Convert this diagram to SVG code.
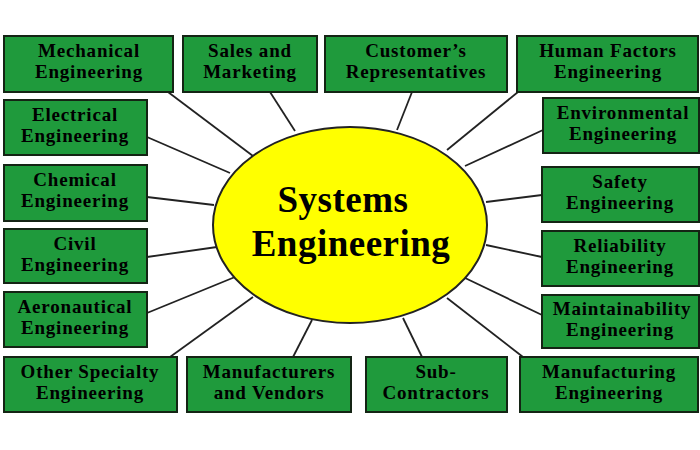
<svg xmlns="http://www.w3.org/2000/svg" width="700" height="450" viewBox="0 0 700 450">
<style>
.box{fill:#1f9a3c;stroke:#142414;stroke-width:2}
.t{font-family:"Liberation Serif","Times New Roman",serif;font-weight:bold;font-size:19px;letter-spacing:0.8px;fill:#000;text-anchor:middle}
.title{font-family:"Liberation Serif","Times New Roman",serif;font-weight:bold;font-size:37px;letter-spacing:0.5px;fill:#000;text-anchor:middle}
.c{stroke:#222;stroke-width:1.8;fill:none}
</style>
<rect width="700" height="450" fill="#fff"/>
<g id="connectors">
<line class="c" x1="168" y1="92" x2="253" y2="156"/>
<line class="c" x1="270" y1="92" x2="295" y2="131"/>
<line class="c" x1="412" y1="92" x2="397" y2="130"/>
<line class="c" x1="518" y1="92" x2="447" y2="150"/>
<line class="c" x1="147" y1="137" x2="230" y2="173"/>
<line class="c" x1="543" y1="130" x2="465" y2="166"/>
<line class="c" x1="147" y1="197" x2="214" y2="205"/>
<line class="c" x1="542" y1="195" x2="486" y2="202"/>
<line class="c" x1="147" y1="257" x2="217" y2="247"/>
<line class="c" x1="542" y1="257" x2="486" y2="245"/>
<line class="c" x1="147" y1="313" x2="235" y2="277"/>
<line class="c" x1="542" y1="315" x2="463" y2="277"/>
<line class="c" x1="170" y1="357" x2="253" y2="297"/>
<line class="c" x1="293" y1="357" x2="312" y2="320"/>
<line class="c" x1="422" y1="357" x2="403" y2="318"/>
<line class="c" x1="523" y1="357" x2="447" y2="298"/>
</g>
<g id="center">
<ellipse cx="350" cy="225" rx="137" ry="98" fill="#ffff00" stroke="#222" stroke-width="2"/>
<text class="title" x="343" y="212">Systems</text>
<text class="title" x="351" y="256">Engineering</text>
</g>
<g id="mechanical"><rect class="box" x="4" y="36" width="169" height="56"/><text class="t" x="89" y="57">Mechanical</text><text class="t" x="89" y="78">Engineering</text></g>
<g id="sales"><rect class="box" x="183" y="36" width="134" height="56"/><text class="t" x="250" y="57">Sales and</text><text class="t" x="250" y="78">Marketing</text></g>
<g id="customers"><rect class="box" x="325" y="36" width="182" height="56"/><text class="t" x="416" y="57">Customer’s</text><text class="t" x="416" y="78">Representatives</text></g>
<g id="human-factors"><rect class="box" x="517" y="36" width="181" height="56"/><text class="t" x="608" y="57">Human Factors</text><text class="t" x="608" y="78">Engineering</text></g>
<g id="electrical"><rect class="box" x="4" y="100" width="143" height="55"/><text class="t" x="75" y="121">Electrical</text><text class="t" x="75" y="142">Engineering</text></g>
<g id="environmental"><rect class="box" x="543" y="98" width="156" height="55"/><text class="t" x="623" y="119">Environmental</text><text class="t" x="623" y="140">Engineering</text></g>
<g id="chemical"><rect class="box" x="4" y="165" width="143" height="56"/><text class="t" x="75" y="186">Chemical</text><text class="t" x="75" y="207">Engineering</text></g>
<g id="safety"><rect class="box" x="542" y="167" width="157" height="55"/><text class="t" x="620" y="188">Safety</text><text class="t" x="620" y="209">Engineering</text></g>
<g id="civil"><rect class="box" x="4" y="229" width="143" height="54"/><text class="t" x="75" y="250">Civil</text><text class="t" x="75" y="271">Engineering</text></g>
<g id="reliability"><rect class="box" x="542" y="231" width="157" height="55"/><text class="t" x="620" y="252">Reliability</text><text class="t" x="620" y="273">Engineering</text></g>
<g id="aeronautical"><rect class="box" x="4" y="292" width="143" height="55"/><text class="t" x="75" y="313">Aeronautical</text><text class="t" x="75" y="334">Engineering</text></g>
<g id="maintainability"><rect class="box" x="542" y="295" width="157" height="53"/><text class="t" x="622" y="315">Maintainability</text><text class="t" x="620" y="336">Engineering</text></g>
<g id="other-specialty"><rect class="box" x="4" y="357" width="173" height="55"/><text class="t" x="90" y="378">Other Specialty</text><text class="t" x="90" y="399">Engineering</text></g>
<g id="manufacturers"><rect class="box" x="187" y="357" width="164" height="55"/><text class="t" x="269" y="378">Manufacturers</text><text class="t" x="269" y="399">and Vendors</text></g>
<g id="sub-contractors"><rect class="box" x="366" y="357" width="141" height="55"/><text class="t" x="436" y="378">Sub-</text><text class="t" x="436" y="399">Contractors</text></g>
<g id="manufacturing"><rect class="box" x="520" y="357" width="178" height="55"/><text class="t" x="609" y="378">Manufacturing</text><text class="t" x="609" y="399">Engineering</text></g>
</svg>
